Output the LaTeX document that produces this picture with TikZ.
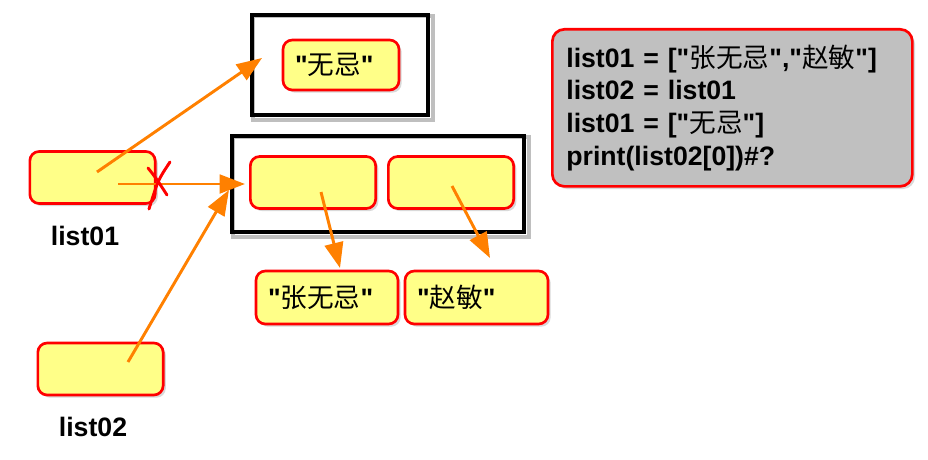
\documentclass[tikz,border=0pt]{standalone}
\usepackage{fontspec}
\setmainfont{Liberation Sans}
\newfontfamily\cjk{Noto Sans CJK SC}
\usetikzlibrary{arrows.meta,shadows,backgrounds}
\definecolor{cellyellow}{RGB}{255,255,136}
\definecolor{reforange}{RGB}{255,128,0}
\definecolor{codegray}{RGB}{192,192,192}
\newcommand\hanzi[1]{{\cjk\mdseries #1}}
\newcommand\qt{\textquotedbl}
\tikzset{
  cell/.style={draw=red, fill=cellyellow, line width=2pt, rounded corners=7pt,
    minimum width=94pt, minimum height=39pt,
    drop shadow={shadow xshift=2pt, shadow yshift=-2pt, opacity=0.3}},
  strcell/.style={cell, font=\fontsize{20}{24}\selectfont\bfseries,
    text width=#1, inner xsep=9pt, align=left, minimum width=0pt, minimum height=39.75pt},
  frame/.style={draw=black, line width=3pt},
  ref/.style={reforange, line width=2.2pt, -{Triangle[length=19pt,width=14pt]}},
  cross/.style={red, line width=2.2pt, line cap=round},
  varname/.style={font=\fontsize{20}{24}\selectfont\bfseries},
  codebox/.style={draw=red, fill=codegray, line width=2pt, rounded corners=9pt,
    text width=249pt, inner xsep=10.5pt, align=left, minimum height=117.75pt,
    font=\fontsize{20}{24.5}\selectfont\bfseries,
    drop shadow={shadow xshift=2pt, shadow yshift=-2pt, opacity=0.3}},
}
\begin{document}
\begin{tikzpicture}[x=0.75pt, y=-0.75pt]
    \useasboundingbox (0,0) rectangle (928,460);
    % variables
    \node[cell] (l1) at (92.5,177.5) {};
    \node[varname] (l1name) at (85,236) {list01};
    \node[cell] (l2) at (100.5,369) {};
    \node[varname] (l2name) at (93,427) {list02};
    % new list
    \node[frame, minimum width=132pt, minimum height=75pt] (f1) at (340,65) {};
    \node[strcell=69pt, minimum height=37.5pt] (wj) at (341,65) {\qt\hanzi{无忌}\qt};
    % old list
    \node[frame, minimum width=219pt, minimum height=72pt] (f2) at (378,184) {};
    \node[cell] (ea) at (313,182.5) {};
    \node[cell] (eb) at (451,182.5) {};
    \node[strcell=88.5pt] (zwj) at (327,297.5) {\qt\hanzi{张无忌}\qt};
    \node[strcell=89.25pt] (zm) at (476.5,297.5) {\qt\hanzi{赵敏}\qt};
    % frame shadows
    \begin{scope}[on background layer]
        \foreach \f in {f1, f2} {
            \draw[black!25, line width=3pt]
                ([shift={(2.5pt,-2.5pt)}]\f.south west) rectangle ([shift={(2.5pt,-2.5pt)}]\f.north east);
        }
    \end{scope}
    % code
    \node[codebox, anchor=north west] (code) at (551,28) {%
        list01 = [\qt\hanzi{张无忌}\qt,\qt\hanzi{赵敏}\qt]\\
        list02 = list01\\
        list01 = [\qt\hanzi{无忌}\qt]\\
        print(list02[0])\#?};
    % references
    \coordinate (l1p) at (97,172);
    \coordinate (l1q) at (118,184);
    \coordinate (l2p) at (128,362);
    \coordinate (eap) at (321,192);
    \coordinate (ebp) at (452,186);
    \coordinate (f1in) at (262,58);
    \coordinate (f2in) at (245,184);
    \coordinate (f2low) at (229,190);
    \coordinate (zwjtop) at (340,268);
    \coordinate (zmtop) at (490,258);
    \draw[ref] (l1p) -- (f1in);
    \draw[ref] (l1q) -- (f2in);
    \draw[ref] (l2p) -- (f2low);
    \draw[ref] (eap) -- (zwjtop);
    \draw[ref] (ebp) -- (zmtop);
    % broken link
    \draw[cross] (148,168) .. controls (156,178) .. (167,195);
    \draw[cross] (170,162) .. controls (158,180) .. (149,209);
\end{tikzpicture}
\end{document}
